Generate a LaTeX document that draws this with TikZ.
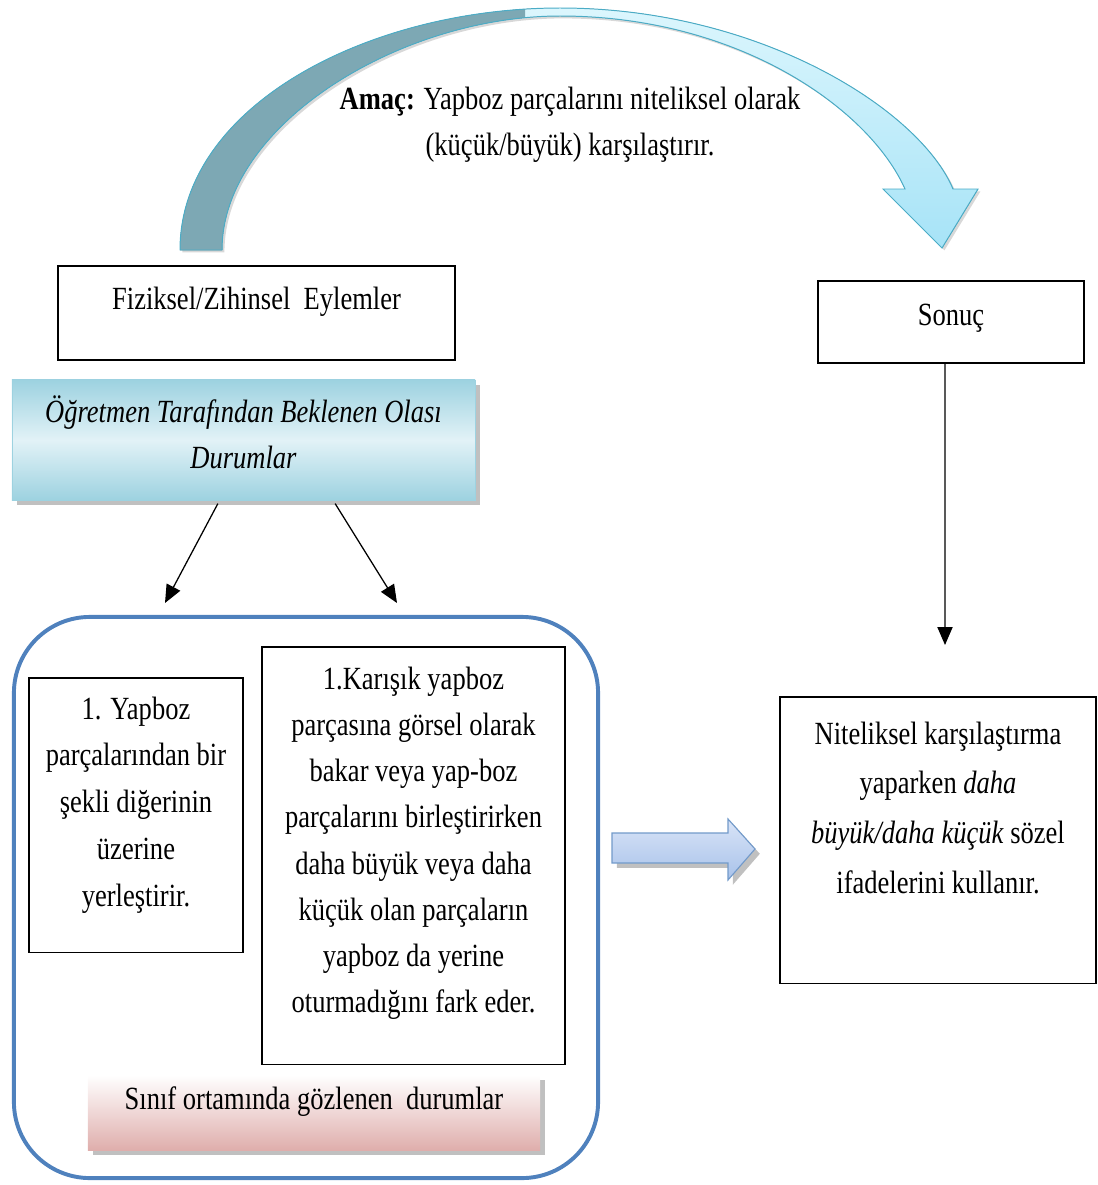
\documentclass[tikz,border=0pt]{standalone}
\usepackage{fontspec}
\setmainfont{Liberation Serif}[FakeStretch=0.82]
\usetikzlibrary{arrows.meta,shadows}

\definecolor{kavissol}{HTML}{7DA8B4}
\definecolor{kavisust}{HTML}{DCF6FD}
\definecolor{kavisalt}{HTML}{A6E3F7}
\definecolor{kaviskenar}{HTML}{4BACC6}
\definecolor{mavikoyu}{HTML}{9DD2E0}
\definecolor{maviacik}{HTML}{E2F2F7}
\definecolor{pembe}{HTML}{DFAEAC}
\definecolor{tahtamavi}{HTML}{4F81BD}
\definecolor{blokust}{HTML}{D9E4F7}
\definecolor{blokalt}{HTML}{A8C2EA}

\newcommand{\kavisyolu}{(180,250) .. controls (180,105) and (370,8) .. (560,8)
  .. controls (760,8) and (920,110) .. (953,189)
  -- (978,189) -- (942,248) -- (883,189) -- (905,189)
  .. controls (870,110) and (740,16) .. (560,16)
  .. controls (400,16) and (222,125) .. (222,250) -- cycle}

\tikzset{
  yazi/.style={font=\fontsize{23pt}{33.4pt}\selectfont, align=flush center, anchor=base,
    inner xsep=0pt, inner ysep=0pt},
  kutu/.style={yazi, draw, line width=0.8pt},
  ok/.style={-{Triangle[length=0.45cm,width=0.38cm]}, line width=0.9pt},
  golge/.style={drop shadow={shadow xshift=0.12cm, shadow yshift=-0.12cm,
    opacity=0.45, fill=black!55}},
}

\begin{document}
\begin{tikzpicture}[x=0.025cm,y=-0.025cm]
\useasboundingbox (0,0) rectangle (1098,1185);

% egri ok (amac)
\fill[black!30, opacity=0.5, xshift=0.06cm, yshift=-0.06cm] \kavisyolu;
\fill[top color=kavisust, bottom color=kavisalt] \kavisyolu;
\begin{scope}
\clip (0,0) rectangle (525,260);
\fill[kavissol] \kavisyolu;
\end{scope}
\draw[kaviskenar, line width=0.7pt] \kavisyolu;

\node[yazi, text width=14cm] (amac) at (570,109)
  {\textbf{Amaç:} Yapboz parçalarını niteliksel olarak\\(küçük/büyük) karşılaştırır.};

% ust kutular
\node[kutu, text width=9.925cm, text height=1.075cm, text depth=1.275cm] (fiziksel)
  at (256.5,309) {Fiziksel/Zihinsel\ \ Eylemler};
\node[kutu, text width=6.65cm, text height=1.1cm, text depth=0.95cm] (sonuc)
  at (951,325) {Sonuç};

\node[yazi, golge, draw=mavikoyu, line width=0.5pt, top color=mavikoyu, bottom color=mavikoyu,
  middle color=maviacik, text width=11.575cm, text height=1.05cm, text depth=1.95cm] (olasi)
  at (243.5,422) {\itshape Öğretmen Tarafından Beklenen Olası\\Durumlar};

% sinif ortami
\node[draw=tahtamavi, line width=2.8pt, rounded corners=1.9cm, minimum width=14.6cm,
  minimum height=14.025cm] (tahta) at (306,897.5) {};

\node[kutu, text width=5.35cm, text height=1.025cm, text depth=5.825cm] (eylem1)
  at (136,719) {1. Yapboz\\parçalarından bir\\şekli diğerinin\\üzerine\\yerleştirir.};
\node[kutu, font=\fontsize{23pt}{32.9pt}\selectfont, text width=7.575cm, text height=1.05cm,
  text depth=9.375cm] (eylem2) at (413.5,689)
  {1.Karışık yapboz\\parçasına görsel olarak\\bakar veya yap-boz\\parçalarını birleştirirken\\daha büyük veya daha\\küçük olan parçaların\\yapboz da yerine\\oturmadığını fark eder.};

\node[yazi, golge, top color=white, bottom color=pembe, text width=11.3cm,
  text height=0.85cm, text depth=1.025cm] (gozlem) at (314,1109)
  {Sınıf ortamında gözlenen\ \ durumlar};

% sonuc kutusu
\node[kutu, font=\fontsize{23pt}{35.5pt}\selectfont, text width=7.9cm, text height=1.175cm,
  text depth=5.975cm] (nitel) at (938,744)
  {Niteliksel karşılaştırma\\yaparken \textit{daha}\\\textit{büyük/daha küçük} sözel\\ifadelerini kullanır.};

% oklar
\coordinate (u1) at (165,603);
\coordinate (u2) at (397,603);
\coordinate (u3) at (945,645);
\draw[ok] ([xshift=-0.64cm,yshift=-0.08cm]olasi.south) -- (u1);
\draw[ok] ([xshift=2.29cm,yshift=-0.08cm]olasi.south) -- (u2);
\draw[ok] ([xshift=-0.15cm]sonuc.south) -- (u3);

\draw[golge, draw=tahtamavi!80, line width=0.8pt, top color=blokust, bottom color=blokalt]
  (612,833) -- (728,833) -- (728,819) -- (755,849) -- (728,880) -- (728,863) -- (612,863) -- cycle;
\end{tikzpicture}
\end{document}
